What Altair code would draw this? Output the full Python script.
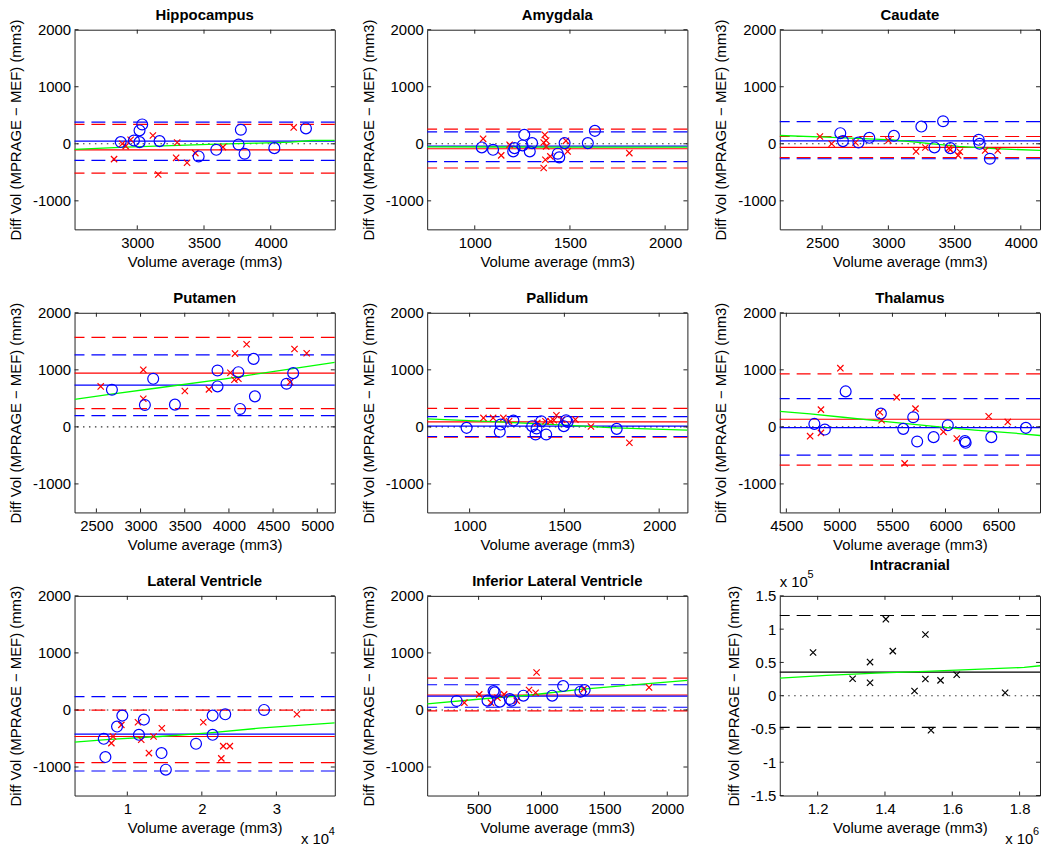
import altair as alt
import pandas as pd

FONT = "Liberation Sans"
W, H = 262, 201
Y_TITLE = "Diff Vol (MPRAGE \u2212 MEF) (mm3)"
X_TITLE = "Volume average (mm3)"
RED, BLUE, GREEN, BLACK = "#ff0000", "#0000ff", "#00ff00", "#000000"
TICK = "#222222"
XPATH = "M-1,-1L1,1M-1,1L1,-1"

Y_DOMAIN = [-1500, 2000]
Y_TICKS = [-1000, 0, 1000, 2000]

# ---------------- Hippocampus ----------------
hippocampus_xdomain = [2530, 4480]
hippocampus_xticks = [3000, 3500, 4000]
hippocampus_circles = [(2876, 30), (2975, 58), (3017, 29), (3017, 234), (3037, 339), (3167, 47),
                       (3460, -222), (3592, -105), (3759, -12), (3776, 246), (3804, -175),
                       (4027, -76), (4264, 269)]
hippocampus_crosses = [(2826, -269), (2888, 0), (2913, -41), (2950, 70), (3117, 146), (3157, -538),
                       (3291, -246), (3299, 23), (3373, -333), (3435, -164), (3642, -58), (4172, 287)]
hippocampus_red = [-105, -515, 339]
hippocampus_blue = [47, -292, 380]
hippocampus_green = [(2530, -99), (2913, -58), (3535, -12), (3908, 12), (4150, 29), (4306, 58), (4480, 60)]

# ---------------- Amygdala ----------------
amygdala_xdomain = [750, 2117]
amygdala_xticks = [1000, 1500, 2000]
amygdala_circles = [(1037, -64), (1096, -105), (1202, -134), (1209, -76), (1251, -29), (1260, 157),
                    (1289, -134), (1301, 12), (1436, -174), (1444, -238), (1472, 12), (1594, 12),
                    (1631, 227)]
amygdala_crosses = [(1044, 87), (1139, -203), (1183, -17), (1368, 157), (1375, 58), (1362, 23),
                    (1375, -47), (1371, -279), (1362, -424), (1397, -221), (1479, 52), (1488, -134),
                    (1812, -163)]
amygdala_red = [-87, -424, 256]
amygdala_blue = [-40, -314, 209]
amygdala_green = [(750, -55), (1400, -57), (2117, -60)]

# ---------------- Caudate ----------------
caudate_xdomain = [2180, 4145]
caudate_xticks = [2500, 3000, 3500, 4000]
caudate_circles = [(2637, 186), (2657, 47), (2774, 23), (2856, 105), (3042, 140), (3249, 302),
                   (3348, -64), (3413, 395), (3468, -76), (3682, 70), (3689, 0), (3766, -262)]
caudate_crosses = [(2483, 128), (2572, 0), (2751, 23), (3000, 58), (3209, -134), (3279, -64),
                   (3458, -76), (3468, -105), (3540, -140), (3527, -203), (3731, -116), (3826, -116)]
caudate_red = [-64, -244, 128]
caudate_blue = [52, -262, 390]
caudate_green = [(2180, 145), (2530, 116), (3030, 70), (3280, 12), (3530, -47), (3800, -85), (4145, -116)]

# ---------------- Putamen ----------------
putamen_xdomain = [2253, 5198]
putamen_xticks = [2500, 3000, 3500, 4000, 4500, 5000]
putamen_circles = [(2676, 651), (3049, 384), (3143, 843), (3389, 390), (3871, 988), (3871, 709),
                   (4107, 959), (4126, 314), (4279, 1192), (4294, 535), (4652, 756), (4727, 942)]
putamen_crosses = [(2549, 709), (3031, 1000), (3031, 494), (3501, 628), (3774, 657), (4017, 948),
                   (4069, 1285), (4062, 826), (4107, 843), (4200, 1448), (4693, 785), (4742, 1366),
                   (4880, 1291)]
putamen_red = [942, 320, 1570]
putamen_blue = [733, 198, 1262]
putamen_green = [(2253, 483), (2649, 570), (3210, 686), (3957, 843), (4705, 1017), (5198, 1130)]

# ---------------- Pallidum ----------------
pallidum_xdomain = [776, 2149]
pallidum_xticks = [1000, 1500, 2000]
pallidum_circles = [(984, -17), (1164, 41), (1159, -87), (1231, 110), (1330, 12), (1353, -29),
                    (1348, -134), (1378, 99), (1404, -134), (1497, 12), (1509, 116), (1517, 87),
                    (1776, -35)]
pallidum_crosses = [(1073, 157), (1124, 157), (1178, 157), (1208, 99), (1357, 70), (1400, 99),
                    (1427, 99), (1444, 116), (1458, 203), (1488, 128), (1558, 128), (1640, 6),
                    (1843, -279)]
pallidum_red = [87, -180, 326]
pallidum_blue = [12, -169, 180]
pallidum_green = [(776, 140), (1154, 87), (1503, 29), (1765, -17), (2149, -58)]

# ---------------- Thalamus ----------------
thalamus_xdomain = [4438, 6891]
thalamus_xticks = [4500, 5000, 5500, 6000, 6500]
thalamus_circles = [(4764, 52), (4863, -47), (5059, 622), (5391, 233), (5602, -35), (5696, 169),
                    (5733, -256), (5888, -180), (6022, 29), (6183, -250), (6190, -279), (6432, -180),
                    (6758, -17)]
thalamus_crosses = [(4724, -163), (4826, 302), (4826, -105), (5009, 1029), (5382, 256), (5398, 116),
                    (5540, 517), (5615, -640), (5717, 320), (5981, -87), (6106, -203), (6407, 186),
                    (6587, 87)]
thalamus_red = [134, -669, 930]
thalamus_blue = [-12, -494, 494]
thalamus_green = [(4438, 273), (4724, 227), (5034, 169), (5345, 110), (5655, 52), (5966, -6),
                  (6276, -58), (6587, -99), (6891, -151)]

# ---------------- Lateral Ventricle ----------------
lateral_xdomain = [2920, 37840]
lateral_xticks = [10000, 20000, 30000]
lateral_circles = [(6840, -506), (7060, -826), (8620, -291), (9330, -99), (11560, -436), (12230, -169),
                   (14590, -756), (15170, -1047), (19220, -593), (21450, -99), (21450, -436),
                   (23140, -76), (28350, 0)]
lateral_crosses = [(7860, -581), (8080, -465), (9200, -262), (11430, -215), (11870, -523), (12900, -756),
                   (13520, -465), (14630, -320), (20200, -215), (22610, -849), (22870, -634),
                   (23760, -634), (32760, -76)]
lateral_red = [-465, -924, -3]
lateral_blue = [-424, -1070, 233]
lateral_green = [(2920, -564), (7640, -517), (14320, -465), (21000, -401), (27680, -320), (37840, -227)]

# ---------------- Inferior Lateral Ventricle ----------------
ilv_xdomain = [91, 2160]
ilv_xticks = [500, 1000, 1500, 2000]
ilv_circles = [(326, 157), (571, 163), (619, 331), (629, 308), (669, 145), (748, 192), (761, 163),
               (856, 250), (1085, 250), (1172, 419), (1309, 320), (1343, 349)]
ilv_crosses = [(387, 128), (505, 273), (598, 128), (650, 215), (703, 273), (803, 163), (901, 349),
               (961, 657), (953, 302), (1336, 366), (1855, 395)]
ilv_red = [262, -17, 558]
ilv_blue = [244, 47, 442]
ilv_green = [(91, 105), (518, 192), (914, 262), (1309, 360), (1705, 436), (2160, 520)]

# ---------------- Intracranial ----------------
icv_xdomain = [1087400, 1860700]
icv_xticks = [1200000, 1400000, 1600000, 1800000]
icv_ydomain = [-150000, 150000]
icv_yticks = [-150000, -100000, -50000, 0, 50000, 100000, 150000]
icv_crosses = [(1186300, 65000), (1303800, 25500), (1355600, 50500), (1355600, 19500),
               (1402600, 115000), (1423200, 67000), (1487800, 7000), (1520100, 92000),
               (1520100, 25000), (1536700, -52000), (1565100, 23000), (1613100, 31500),
               (1757000, 4500)]
icv_black = [35500, -47500, 120500]
icv_green = [(1087400, 26500), (1226400, 30500), (1373300, 34000), (1520100, 36500),
             (1667000, 39500), (1813800, 42500), (1860700, 45000)]


def panel(title, xdom, xticks, circles, crosses, red, blue, green,
          ydom=Y_DOMAIN, yticks=Y_TICKS, black=None, cross_color=RED,
          xfmt="datum.value + ''", yfmt="datum.value + ''", notes=()):
    xs = alt.Scale(domain=xdom, nice=False, zero=False)
    ys = alt.Scale(domain=ydom, nice=False, zero=False)
    xax = alt.Axis(values=xticks, title=X_TITLE, labelExpr=xfmt)
    yax = alt.Axis(values=yticks, title=Y_TITLE, labelExpr=yfmt)

    def X():
        return alt.X("x:Q", scale=xs, axis=xax)

    def Y():
        return alt.Y("y:Q", scale=ys, axis=yax)

    layers = []
    layers.append(alt.Chart(pd.DataFrame({"y": [0]})).mark_rule(
        color="#333333", strokeDash=[1.5, 4.5], strokeWidth=1.1).encode(y=Y()))

    dashed, solid = [], []
    for vals, col in ((red, RED), (blue, BLUE), (black, BLACK)):
        if vals:
            solid.append({"y": vals[0], "c": col})
            dashed.append({"y": vals[1], "c": col})
            dashed.append({"y": vals[2], "c": col})
    layers.append(alt.Chart(pd.DataFrame(dashed)).mark_rule(
        strokeDash=[14, 7], strokeWidth=1.2).encode(y=Y(), color=alt.Color("c:N", scale=None)))
    layers.append(alt.Chart(pd.DataFrame(solid)).mark_rule(
        strokeWidth=1.2).encode(y=Y(), color=alt.Color("c:N", scale=None)))
    layers.append(alt.Chart(pd.DataFrame(green, columns=["x", "y"])).mark_line(
        color=GREEN, strokeWidth=1.3, clip=True).encode(x=X(), y=Y()))
    layers.append(alt.Chart(pd.DataFrame(crosses, columns=["x", "y"])).mark_point(
        shape=XPATH, size=40, filled=False, strokeWidth=1.2, color=cross_color, opacity=1
    ).encode(x=X(), y=Y()))
    if circles:
        layers.append(alt.Chart(pd.DataFrame(circles, columns=["x", "y"])).mark_point(
            shape="circle", size=120, filled=False, strokeWidth=1.2, color=BLUE, opacity=1
        ).encode(x=X(), y=Y()))

    tx = pd.DataFrame({"x": xticks})
    ty = pd.DataFrame({"y": yticks})
    layers += [
        alt.Chart(tx).mark_rule(color=TICK, strokeWidth=1).encode(x=X(), y=alt.value(0), y2=alt.value(4)),
        alt.Chart(tx).mark_rule(color=TICK, strokeWidth=1).encode(x=X(), y=alt.value(H - 4), y2=alt.value(H)),
        alt.Chart(ty).mark_rule(color=TICK, strokeWidth=1).encode(y=Y(), x=alt.value(0), x2=alt.value(4)),
        alt.Chart(ty).mark_rule(color=TICK, strokeWidth=1).encode(y=Y(), x=alt.value(W - 4), x2=alt.value(W)),
    ]
    for txt, px, py, fs in notes:
        layers.append(alt.Chart(pd.DataFrame({"t": [txt]})).mark_text(
            align="left", baseline="middle", font=FONT, fontSize=fs, color=BLACK
        ).encode(text="t:N", x=alt.value(px), y=alt.value(py)))

    return alt.layer(*layers).properties(width=W, height=H, title=title)


p1 = panel("Hippocampus", hippocampus_xdomain, hippocampus_xticks, hippocampus_circles,
           hippocampus_crosses, hippocampus_red, hippocampus_blue, hippocampus_green)
p2 = panel("Amygdala", amygdala_xdomain, amygdala_xticks, amygdala_circles,
           amygdala_crosses, amygdala_red, amygdala_blue, amygdala_green)
p3 = panel("Caudate", caudate_xdomain, caudate_xticks, caudate_circles,
           caudate_crosses, caudate_red, caudate_blue, caudate_green)
p4 = panel("Putamen", putamen_xdomain, putamen_xticks, putamen_circles,
           putamen_crosses, putamen_red, putamen_blue, putamen_green)
p5 = panel("Pallidum", pallidum_xdomain, pallidum_xticks, pallidum_circles,
           pallidum_crosses, pallidum_red, pallidum_blue, pallidum_green)
p6 = panel("Thalamus", thalamus_xdomain, thalamus_xticks, thalamus_circles,
           thalamus_crosses, thalamus_red, thalamus_blue, thalamus_green)
p7 = panel("Lateral Ventricle", lateral_xdomain, lateral_xticks, lateral_circles,
           lateral_crosses, lateral_red, lateral_blue, lateral_green,
           xfmt="datum.value / 10000 + ''",
           notes=[("x 10", 228, 245, 15), ("4", 256, 238, 11)])
p8 = panel("Inferior Lateral Ventricle", ilv_xdomain, ilv_xticks, ilv_circles,
           ilv_crosses, ilv_red, ilv_blue, ilv_green)
p9 = panel("Intracranial", icv_xdomain, icv_xticks, None, icv_crosses, None, None, icv_green,
           ydom=icv_ydomain, yticks=icv_yticks, black=icv_black, cross_color=BLACK,
           xfmt="format(datum.value / 1000000, '.1f')",
           yfmt="datum.value / 100000 + ''",
           notes=[("x 10", 0, -14, 15), ("5", 28, -21, 11),
                  ("x 10", 227, 245, 15), ("6", 255, 238, 11)])

chart = alt.concat(p1, p2, p3, p4, p5, p6, p7, p8, p9, columns=3,
                   spacing={"row": 84, "column": 93}, bounds="flush").properties(
    padding={"left": 0, "top": -4, "right": 0, "bottom": 0}
).configure_view(
    stroke="#222222", strokeWidth=1
).configure_axis(
    domain=False, ticks=False, tickSize=0, grid=False, labelFlush=False, labelOverlap=False,
    labelFont=FONT, labelFontSize=15, labelColor=BLACK,
    titleFont=FONT, titleFontSize=15, titleFontWeight="normal", titleColor=BLACK
).configure_axisX(
    labelPadding=6, titlePadding=4
).configure_axisY(
    labelPadding=4, titlePadding=9
).configure_title(
    font=FONT, fontSize=15, fontWeight="bold", offset=-4, color=BLACK, anchor="middle",
    frame="group", baseline="alphabetic"
)

chart.save("out.html", embed_options={"renderer": "svg", "actions": False})
